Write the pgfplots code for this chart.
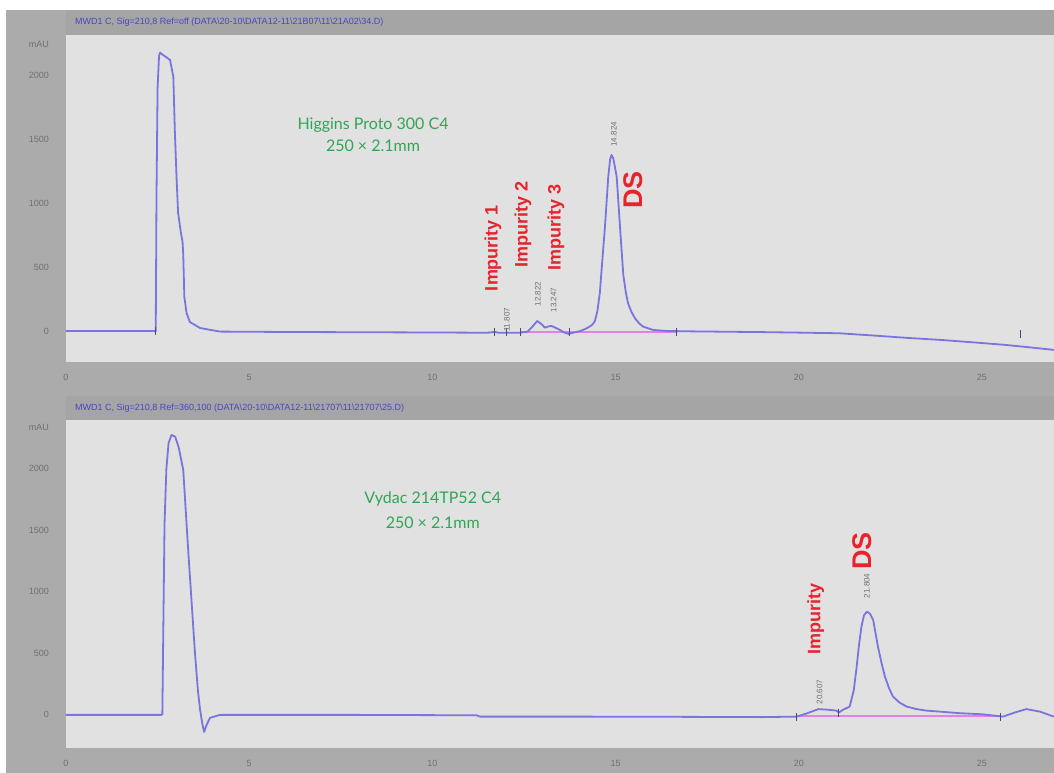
\documentclass[border=0pt]{standalone}
\usepackage{pgfplots}
\pgfplotsset{compat=1.18}
\usepackage{fontspec}
\setmainfont{Liberation Sans}
\newfontfamily\gfont{Lato}
\definecolor{bgray}{HTML}{ABABAB}
\definecolor{hgray}{HTML}{A5A5A5}
\definecolor{pgray}{HTML}{E1E1E1}
\definecolor{trace}{RGB}{122,116,222}
\definecolor{grn}{RGB}{48,165,85}
\definecolor{imred}{RGB}{232,35,45}
\definecolor{pinkb}{RGB}{228,130,225}
\definecolor{hdrblue}{RGB}{70,70,200}
\definecolor{lblgray}{HTML}{707070}
\pgfplotsset{
  chrom/.style={
    anchor=south west, scale only axis, width=494pt,
    xmin=0, xmax=26.96,
    axis background/.style={fill=pgray},
    axis line style={draw=none},
    major tick length=0pt,
    xtick={0,5,...,25}, ytick={0,500,...,2000},
    tick label style={font=\fontsize{4.5}{5}\selectfont, text=lblgray},
    /pgf/number format/assume math mode=true,
    /pgf/number format/set thousands separator={},
    scaled ticks=false,
    xticklabel style={yshift=-2.5pt},
    yticklabel style={xshift=-5pt},
    clip mode=individual,
  },
  tr/.style={color=trace, line width=0.9pt, line join=round},
  bl/.style={color=pinkb, line width=0.9pt},
  mk/.style={only marks, mark=|, mark size=2pt, mark options={draw=trace!60!black, line width=0.6pt}},
}
\tikzset{
  imlbl/.style={rotate=90, text=imred, font=\bfseries\fontsize{9}{10}\selectfont},
  dslbl/.style={rotate=90, text=imred, font=\bfseries\fontsize{13.5}{14}\selectfont},
  rtlbl/.style={rotate=90, text=lblgray, font=\fontsize{4}{4.5}\selectfont},
}
\begin{document}
\begin{tikzpicture}
\fill[white] (0pt,0pt) rectangle (527pt,386.5pt);
\fill[bgray] (3pt,0pt) rectangle (527pt,381.5pt);
\fill[hgray] (33pt,369pt) rectangle (527pt,381.5pt);
\fill[hgray] (33pt,176.5pt) rectangle (527pt,188.5pt);
\node[anchor=west, text=hdrblue, font=\fontsize{4.5}{5}\selectfont] at (34pt,375.5pt) {MWD1 C, Sig=210,8 Ref=off (DATA\textbackslash 20-10\textbackslash DATA12-11\textbackslash 21B07\textbackslash 11\textbackslash 21A02\textbackslash 34.D)};
\node[anchor=west, text=hdrblue, font=\fontsize{4.5}{5}\selectfont] at (34pt,182.5pt) {MWD1 C, Sig=210,8 Ref=360,100 (DATA\textbackslash 20-10\textbackslash DATA12-11\textbackslash 21707\textbackslash 11\textbackslash 21707\textbackslash 25.D)};

% ---------- top panel ----------
\begin{axis}[chrom, at={(33pt,205.5pt)}, height=163.5pt, ymin=-242, ymax=2312,
  extra y ticks={2242}, extra y tick labels={mAU}]
\addplot[bl] coordinates {(12.39,-8) (16.67,-8)};
\addplot[tr] coordinates {
(0,0) (2.40,0) (2.45,-5) (2.47,1050) (2.50,1900) (2.54,2150) (2.57,2175)
(2.62,2162) (2.72,2142) (2.84,2117) (2.93,1986) (2.97,1570) (3.02,1180)
(3.06,922) (3.14,760) (3.18,700) (3.20,600) (3.23,266) (3.29,141) (3.38,70)
(3.66,23) (4.2,-5) (6,-8) (8,-10) (10,-12) (11.5,-14) (11.7,-8) (11.8,-14)
(12.4,-14) (12.6,-5) (12.72,30) (12.86,78) (12.97,55) (13.07,26) (13.16,35)
(13.25,39) (13.36,25) (13.48,8) (13.60,-12) (13.71,-23) (13.9,-10)
(14.05,0) (14.21,21) (14.35,45) (14.43,73) (14.50,150) (14.57,297)
(14.64,560) (14.71,815) (14.80,1205) (14.85,1340) (14.89,1375) (14.94,1345)
(15.03,1205) (15.12,815) (15.21,440) (15.28,300) (15.34,216) (15.43,150)
(15.53,99) (15.64,60) (15.75,34) (16.02,8) (16.39,0) (17,-3) (18,-6)
(19,-9) (20,-13) (21.1,-18) (22,-35) (23,-55) (23.87,-70) (24.8,-90)
(25.6,-108) (26.3,-128) (26.96,-148)};
\addplot[mk] coordinates {(2.45,0) (11.7,-8) (12.03,-8) (12.4,-8) (13.75,-12) (16.67,-8) (26.05,-20)};
\node[align=center, text=grn, font=\gfont\fontsize{8}{11}\selectfont] at (axis cs:8.38,1530) {Higgins Proto 300 C4\\250 × 2.1mm};
\node[imlbl] at (axis cs:11.65,648) {Impurity 1};
\node[imlbl] at (axis cs:12.47,828) {Impurity 2};
\node[imlbl] at (axis cs:13.37,805) {Impurity 3};
\node[dslbl] at (axis cs:15.47,1102) {DS};
\node[rtlbl] at (axis cs:12.03,86) {11.807};
\node[rtlbl] at (axis cs:12.88,289) {12.822};
\node[rtlbl] at (axis cs:13.31,242) {13.247};
\node[rtlbl] at (axis cs:14.95,1536) {14.824};
\end{axis}

% ---------- bottom panel ----------
\begin{axis}[chrom, at={(33pt,12.5pt)}, height=164pt, ymin=-268, ymax=2398,
  extra y ticks={2333}, extra y tick labels={mAU}]
\addplot[bl] coordinates {(20.0,-12) (25.5,-12)};
\addplot[tr] coordinates {
(0,0) (2.60,0) (2.63,5) (2.66,800) (2.69,1561) (2.74,2000) (2.80,2210)
(2.88,2276) (2.98,2262) (3.08,2170) (3.20,1992) (3.34,1317) (3.52,504)
(3.60,200) (3.66,41) (3.72,-70) (3.77,-138) (3.84,-80) (3.93,-24) (4.2,0)
(6,0) (8,0) (10,-2) (11.2,-3) (11.3,-14) (14,-14) (17,-16) (19,-18)
(19.94,-14) (20.2,10) (20.53,47) (20.8,42) (21.03,35) (21.09,19) (21.2,40)
(21.39,68) (21.50,200) (21.57,366) (21.64,560) (21.71,718) (21.78,810)
(21.86,840) (21.95,820) (22.03,772) (22.16,555) (22.26,420) (22.35,312)
(22.46,220) (22.57,149) (22.75,100) (22.94,68) (23.2,48) (23.48,35)
(24.39,14) (25.0,5) (25.57,-14) (25.9,20) (26.21,47) (26.58,27) (26.96,-14)};
\addplot[mk] coordinates {(19.94,-14) (21.09,19) (25.5,-14)};
\node[align=center, text=grn, font=\gfont\fontsize{8}{12.5}\selectfont] at (axis cs:10.01,1667) {Vydac 214TP52 C4\\250 × 2.1mm};
\node[imlbl] at (axis cs:20.46,780) {Impurity};
\node[dslbl] at (axis cs:21.72,1333) {DS};
\node[rtlbl] at (axis cs:20.57,187) {20.607};
\node[rtlbl] at (axis cs:21.86,1049) {21.804};
\end{axis}
\end{tikzpicture}
\end{document}
